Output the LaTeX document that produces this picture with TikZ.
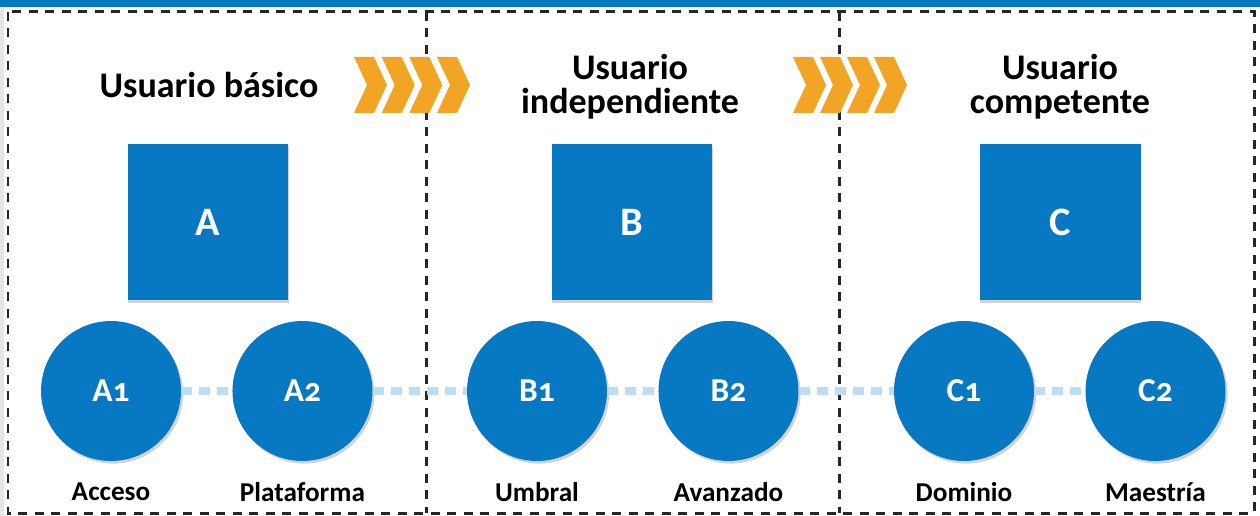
\documentclass[tikz,border=0pt]{standalone}
\usepackage{fontspec}
\setmainfont{Carlito}[Numbers=OldStyle]
\usetikzlibrary{positioning,shadows}
\definecolor{azul}{HTML}{0778C2}
\definecolor{azulclaro}{HTML}{BDDCF6}
\definecolor{naranja}{HTML}{F2A524}

\begin{document}
\begin{tikzpicture}[x=0.02cm, y=-0.02cm, node distance=3.83cm, on grid, font=\bfseries,
		nivel/.style={rectangle, fill=azul, text=white, minimum width=3.22cm, minimum height=3.12cm, font=\bfseries\fontsize{23}{26}\selectfont, drop shadow={shadow xshift=0.4pt, shadow yshift=-1.5pt, opacity=0.35}},
		subnivel/.style={circle, fill=azul, text=white, minimum size=2.8cm, inner sep=0pt, font=\bfseries\fontsize{19}{20}\selectfont, drop shadow={shadow xshift=1.2pt, shadow yshift=-1.5pt, opacity=0.35}},
		titulo/.style={align=center, font=\bfseries\fontsize{20.5}{19.5}\selectfont},
		etiqueta/.style={font=\bfseries\fontsize{15.5}{18}\selectfont},
		flecha/.style={fill=naranja},
		borde/.style={black!85, line width=0.06cm, dash pattern=on 0.18cm off 0.15cm}]
				\useasboundingbox (0,0) rectangle (1260,516);
				\fill[azul] (0,0) rectangle (1260,7);
				\fill[black!10] (0,7) rectangle (4,516);
				\draw[borde] (8,12) rectangle (1254,513);
				\draw[borde] (426,12) -- (426,513);
				\draw[borde] (839,12) -- (839,513);
				
				\foreach \x in {354,381.7,409.3,437,793,820,847,874}
					\fill[flecha] (\x,57) -- ++(20,0) -- ++(13,28) -- ++(-13,28) -- ++(-20,0) -- ++(13,-28) -- cycle;
				
				\node[titulo] (t_A) at (209,85) {Usuario básico};
				\node[titulo] (t_B) at (630,87) {Usuario\\independiente};
				\node[titulo] (t_C) at (1060,87) {Usuario\\competente};
				
				\node[nivel] (A) at (208,222) {A};
				\node[nivel] (B) at (632,222) {B};
				\node[nivel] (C) at (1060,222) {C};
				
				\node[subnivel] (A_1) at (111,391) {A1};
				\node[subnivel] (A_2) [right=of A_1] {A2};
				\node[subnivel] (B_1) at (537,391) {B1};
				\node[subnivel] (B_2) [right=of B_1] {B2};
				\node[subnivel] (C_1) at (964,391) {C1};
				\node[subnivel] (C_2) [right=of C_1] {C2};
				
				\node[etiqueta] (l_A1) [below=2.02cm of A_1] {Acceso};
				\node[etiqueta] (l_A2) [below=2.02cm of A_2] {Plataforma};
				\node[etiqueta] (l_B1) [below=2.02cm of B_1] {Umbral};
				\node[etiqueta] (l_B2) [below=2.02cm of B_2] {Avanzado};
				\node[etiqueta] (l_C1) [below=2.02cm of C_1] {Dominio};
				\node[etiqueta] (l_C2) [below=2.02cm of C_2] {Maestría};
				
				\path[azulclaro, line width=0.16cm, dash pattern=on 0.22cm off 0.14cm]
				(A_1) edge (A_2)
				(A_2) edge (B_1)
				(B_1) edge (B_2)
				(B_2) edge (C_1)
				(C_1) edge (C_2)
				;
			\end{tikzpicture}
\end{document}
